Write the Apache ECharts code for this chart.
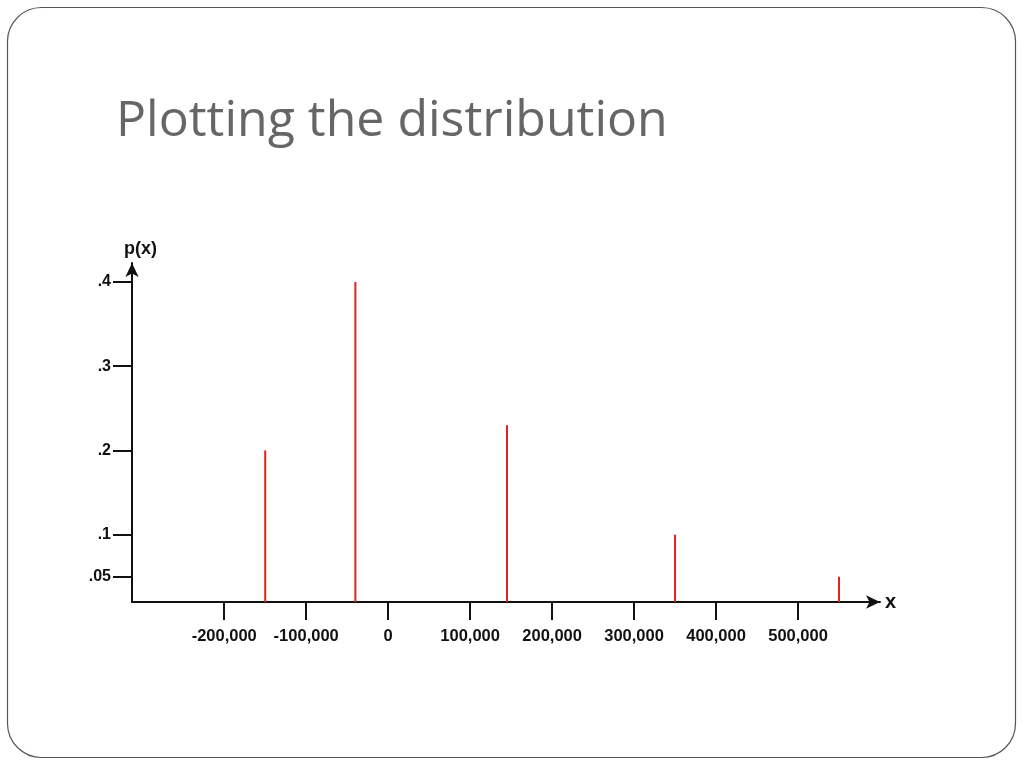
<!DOCTYPE html>
<html lang="en">
<head>
    <meta charset="UTF-8">
    <title>Plotting the distribution</title>
</head>
<style type="text/css">
    *{
        margin: 0;
        padding: 0;
    }
    html, body{
        width: 100%;
        height: 100%;
        background: #fff;
    }
    #main{
        width: 1024px;
        height: 768px;
    }
</style>
<body>
<div id="main"></div>
</body>
<script src="https://cdn.jsdelivr.net/npm/echarts@6/dist/echarts.min.js"></script>
<script>
    // x 的取值和对应概率
    var xValues = [-150000, -40000, 145000, 350000, 550000];
    var probs = [0.2, 0.4, 0.23, 0.1, 0.05];

    // 坐标轴刻度
    var xTicks = [-200000, -100000, 0, 100000, 200000, 300000, 400000, 500000];
    var yTicks = [0.05, 0.1, 0.2, 0.3, 0.4];

    var stems = [];
    for (var i = 0; i < xValues.length; i++) {
        stems.push([xValues[i], probs[i]]);
    }

    // 原图纵轴底部不是从0开始画的
    var yMin = 0.02;
    var yMax = 0.4226;

    var labelFont = {
        fontFamily: 'Liberation Sans',
        fontWeight: 'bold',
        color: '#111'
    };

    var myChart = echarts.init(document.getElementById('main'));
    var option = {
        animation: false,
        title: {
            text: 'Plotting the distribution',
            left: 111,
            top: 92,
            textStyle: {
                fontFamily: 'Open Sans',
                fontWeight: 'normal',
                fontSize: 50,
                color: '#666666'
            }
        },
        graphic: [{
            type: 'rect',
            shape: { x: 7.5, y: 7.5, width: 1008, height: 750, r: 34 },
            style: { fill: 'none', stroke: '#555', lineWidth: 1.2 },
            z: -10
        }],
        grid: {
            left: 132,
            right: 144,
            top: 263,
            bottom: 166
        },
        xAxis: {
            type: 'value',
            min: -312500,
            max: 600000,
            name: 'x',
            nameGap: 5,
            nameTextStyle: Object.assign({ fontSize: 20 }, labelFont),
            splitLine: { show: false },
            axisLine: {
                onZero: false,
                lineStyle: { color: '#111', width: 2 },
                symbol: ['none', 'arrow'],
                symbolSize: [10, 14]
            },
            axisTick: {
                length: 18,
                lineStyle: { color: '#111', width: 2 },
                customValues: xTicks
            },
            axisLabel: Object.assign({
                margin: 26,
                fontSize: 16.5,
                customValues: xTicks,
                formatter: function (v) {
                    return v.toLocaleString('en-US');
                }
            }, labelFont)
        },
        yAxis: {
            type: 'value',
            min: yMin,
            max: yMax,
            name: 'p(x)',
            nameGap: 5,
            nameTextStyle: Object.assign({
                fontSize: 18,
                align: 'left',
                padding: [0, 0, 0, -8]
            }, labelFont),
            splitLine: { show: false },
            axisLine: {
                onZero: false,
                lineStyle: { color: '#111', width: 2 },
                symbol: ['none', 'arrow'],
                symbolSize: [10, 14]
            },
            axisTick: {
                length: 19,
                lineStyle: { color: '#111', width: 2 },
                customValues: yTicks
            },
            axisLabel: Object.assign({
                margin: 21,
                fontSize: 16,
                customValues: yTicks,
                formatter: function (v) {
                    return String(v).replace(/^0/, '');
                }
            }, labelFont)
        },
        series: [{
            name: 'p(x)',
            type: 'custom',
            data: stems,
            renderItem: function (params, api) {
                var top = api.coord([api.value(0), api.value(1)]);
                var bottom = api.coord([api.value(0), yMin]);
                return {
                    type: 'line',
                    shape: { x1: top[0], y1: top[1], x2: bottom[0], y2: bottom[1] },
                    style: { stroke: '#e32222', lineWidth: 2 }
                };
            }
        }]
    };
    myChart.setOption(option);
</script>
</html>
